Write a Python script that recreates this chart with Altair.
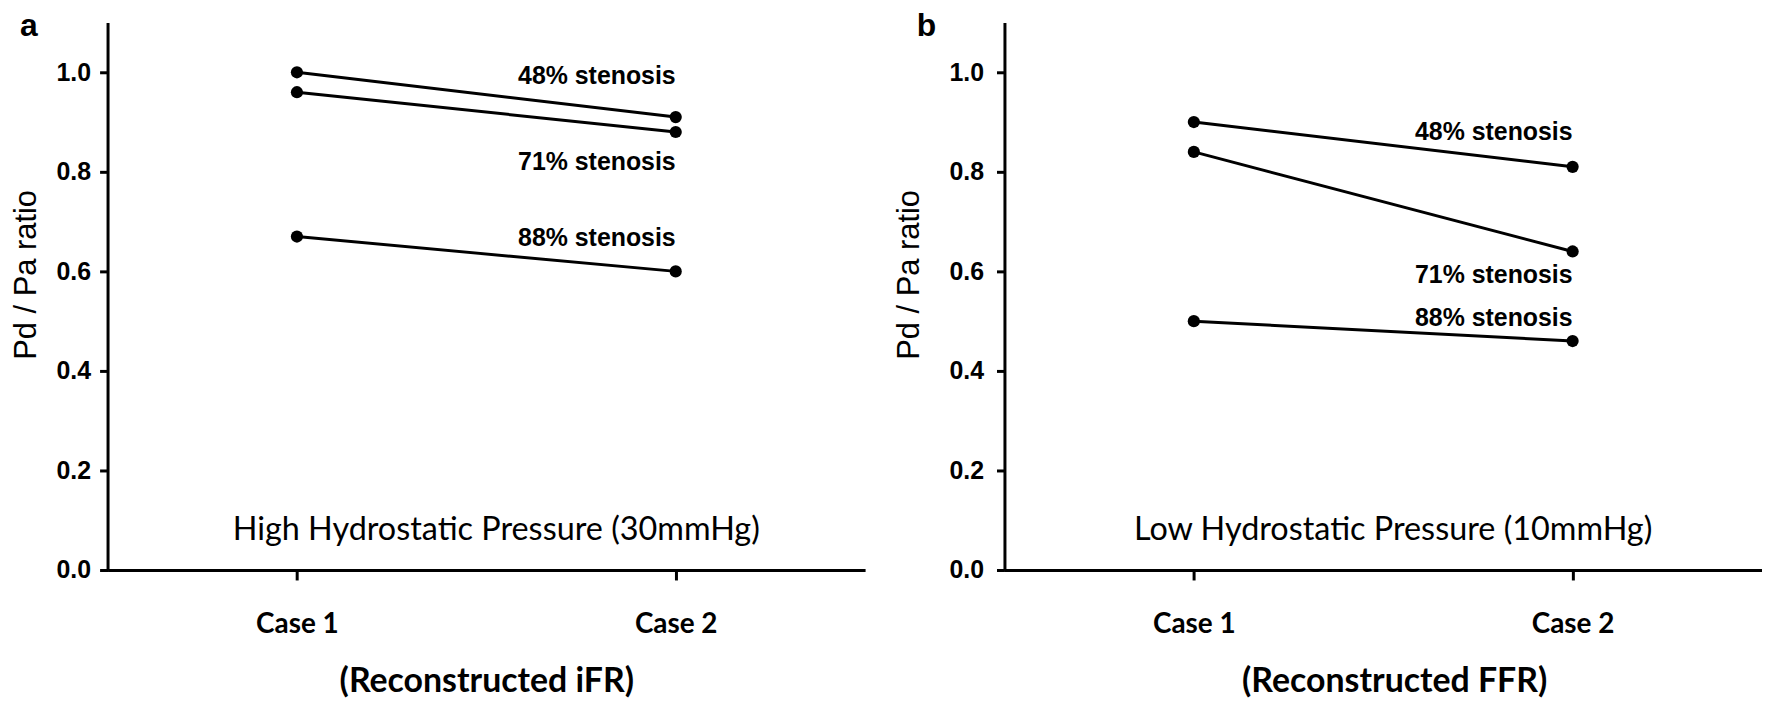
import altair as alt
import pandas as pd

cases = ["Case 1", "Case 2"]
stenoses = ["48% stenosis", "71% stenosis", "88% stenosis"]

# Panel a: High hydrostatic pressure (Reconstructed iFR)
ifr_48 = [1.00, 0.91]
ifr_71 = [0.96, 0.88]
ifr_88 = [0.67, 0.60]
# Panel b: Low hydrostatic pressure (Reconstructed FFR)
ffr_48 = [0.90, 0.81]
ffr_71 = [0.84, 0.64]
ffr_88 = [0.50, 0.46]

# label anchor heights (Pd/Pa units, text baseline)
ifr_label_y = [0.976, 0.804, 0.65]
ffr_label_y = [0.864, 0.576, 0.49]

y_ticks = [0.0, 0.2, 0.4, 0.6, 0.8, 1.0]
y_domain = [0, 1.1]

W, H = 761, 550


def make_panel(series, label_y, letter, pressure, xtitle, ylabel_pad, ytitle_pad, xtitle_x):
    rows = []
    for name, vals in zip(stenoses, series):
        for c, v in zip(cases, vals):
            rows.append({"stenosis": name, "case": c, "ratio": v})
    df = pd.DataFrame(rows)
    lab = pd.DataFrame({"stenosis": stenoses, "case": ["Case 2"] * 3, "ratio": label_y})

    x = alt.X(
        "case:N",
        scale=alt.Scale(type="point", domain=cases, padding=0.5),
        axis=alt.Axis(
            title=xtitle,
            labelAngle=0,
            labelFont="Lato",
            labelFontWeight="bold",
            labelFontSize=28,
            labelColor="black",
            labelPadding=31,
            tickSize=10,
            tickWidth=3,
            tickColor="black",
            domainWidth=3,
            domainColor="black",
            titleFont="Lato",
            titleFontWeight="bold",
            titleFontSize=34,
            titleColor="black",
            titlePadding=26,
            titleX=xtitle_x,
            grid=False,
        ),
    )
    y = alt.Y(
        "ratio:Q",
        scale=alt.Scale(domain=y_domain, nice=False, zero=True),
        axis=alt.Axis(
            title="Pd / Pa ratio",
            values=y_ticks,
            format=".1f",
            labelFont="Liberation Sans",
            labelFontWeight="bold",
            labelFontSize=25,
            labelColor="black",
            labelPadding=ylabel_pad,
            tickSize=8,
            tickWidth=3,
            tickColor="black",
            domainWidth=3,
            domainColor="black",
            titleFont="Liberation Sans",
            titleFontWeight="normal",
            titleFontSize=31,
            titleColor="black",
            titlePadding=ytitle_pad,
            titleY=253,
            grid=False,
        ),
    )

    lines = alt.Chart(df).mark_line(color="black", strokeWidth=3).encode(
        x=x, y=y, detail="stenosis:N"
    )
    pts = alt.Chart(df).mark_circle(color="black", size=150, opacity=1).encode(x=x, y=y)
    labels = alt.Chart(lab).mark_text(
        align="right", baseline="alphabetic", font="Liberation Sans",
        fontWeight="bold", fontSize=25, color="black",
    ).encode(x=x, y=y, text="stenosis:N")
    press = alt.Chart(pd.DataFrame({"t": [pressure], "ratio": [0.06]})).mark_text(
        align="center", baseline="alphabetic", font="Lato", fontSize=32.5, color="black",
    ).encode(x=alt.value(W / 2 + 10), y=y, text="t:N")
    let = alt.Chart(pd.DataFrame({"t": [letter]})).mark_text(
        align="left", baseline="alphabetic", font="Liberation Sans",
        fontWeight="bold", fontSize=32, color="black",
    ).encode(x=alt.value(-88), y=alt.value(14), text="t:N")

    return alt.layer(lines, pts, labels, press, let).properties(width=W, height=H)


a = make_panel([ifr_48, ifr_71, ifr_88], ifr_label_y, "a",
               "High Hydrostatic Pressure (30mmHg)", "(Reconstructed iFR)",
               9, 14, W / 2)
b = make_panel([ffr_48, ffr_71, ffr_88], ffr_label_y, "b",
               "Low Hydrostatic Pressure (10mmHg)", "(Reconstructed FFR)",
               13, 24, W / 2 + 11)

chart = alt.hconcat(a, b, spacing=28).properties(
    padding={"left": 2, "top": 1, "right": 0, "bottom": 0},
    background="white",
).configure_view(stroke=None)

chart.save("out.html", embed_options={"renderer": "svg", "actions": False})
